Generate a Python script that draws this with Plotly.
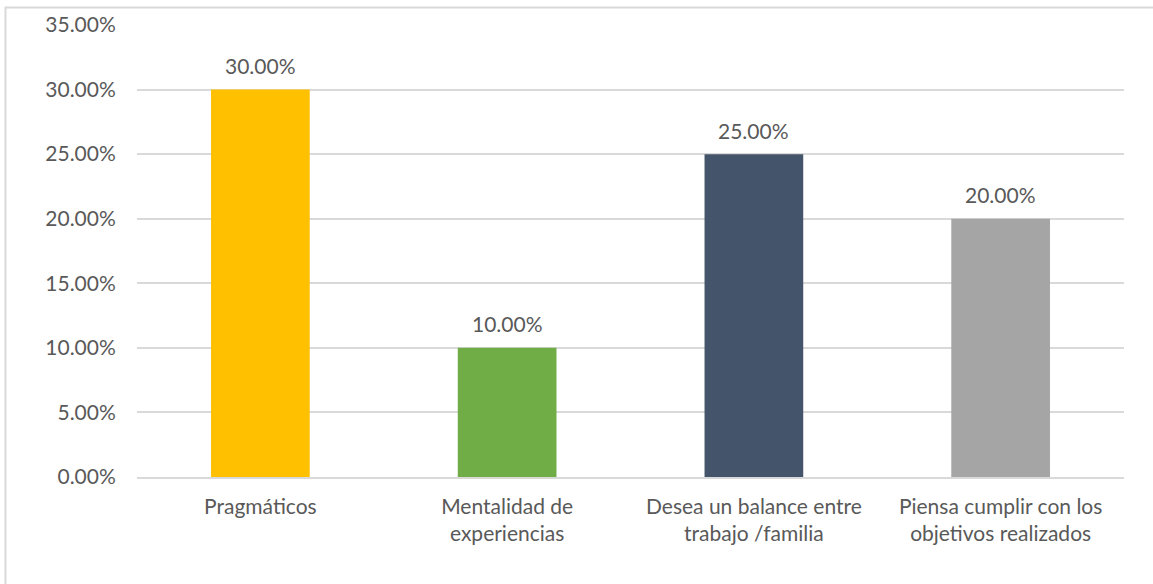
import plotly.graph_objects as go

categories = ["Pragmáticos", "Mentalidad de<br>experiencias", "Desea un balance entre<br>trabajo /familia", "Piensa cumplir con los<br>objetivos realizados"]
values = [0.30, 0.10, 0.25, 0.20]
colors = ["#FFC000", "#70AD47", "#44546A", "#A5A5A5"]
y_ticks = [0, 0.05, 0.10, 0.15, 0.20, 0.25, 0.30, 0.35]

FONT = "Lato"
TXT = "#595959"

fig = go.Figure(go.Bar(
    x=categories, y=values, marker=dict(color=colors, line=dict(width=0)),
    hoverinfo="skip",
))

W, H = 1153, 584
l, r, t, b = 137, 29, 25, 107
pw, ph = W - l - r, H - t - b

def px(xp):
    return (xp - l) / pw

def py(yp):
    return (H - b - yp) / ph

annotations = [
    dict(x=c, y=v, xref="x", yref="y", text=f"{v*100:.2f}%", showarrow=False,
         yshift=24, yanchor="middle", font=dict(family=FONT, size=21, color=TXT))
    for c, v in zip(categories, values)
]

fig.update_layout(
    width=W, height=H, margin=dict(l=l, r=r, t=t, b=b),
    paper_bgcolor="white", plot_bgcolor="white", bargap=0.6, showlegend=False,
    font=dict(family=FONT, size=21, color=TXT),
    xaxis=dict(showgrid=False, showline=True, linecolor="#D9D9D9", linewidth=1.5,
               ticks="outside", ticklen=10, tickcolor="rgba(0,0,0,0)",
               tickfont=dict(family=FONT, size=21, color=TXT)),
    yaxis=dict(range=[0, 0.35], tickvals=y_ticks, tickformat=".2%",
               showgrid=True, gridcolor="#D9D9D9", gridwidth=1.5, zeroline=False,
               ticks="outside", ticklen=16, tickcolor="rgba(0,0,0,0)",
               tickfont=dict(family=FONT, size=21, color=TXT)),
    annotations=annotations,
    shapes=[dict(type="rect", xref="paper", yref="paper",
                 x0=px(5.5), x1=px(1170), y0=py(7.5), y1=py(600),
                 line=dict(color="#D9D9D9", width=2), fillcolor="rgba(0,0,0,0)", layer="below")],
)

fig.write_html("out.html", config={"displayModeBar": False},
               post_script="document.body.style.margin='0';document.body.style.overflow='hidden';")
